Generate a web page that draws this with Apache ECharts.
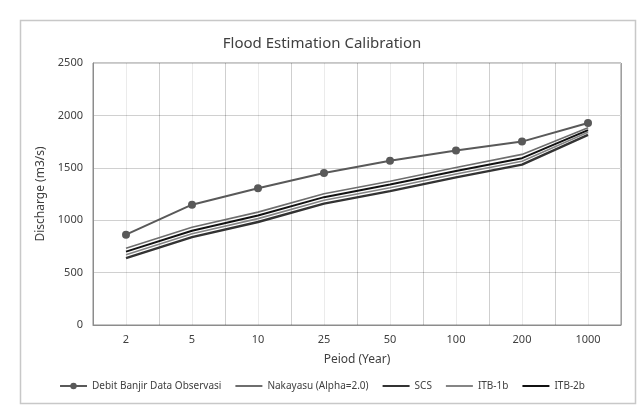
<!DOCTYPE html>
<html>
<head>
<meta charset="utf-8">
<script src="https://cdn.jsdelivr.net/npm/echarts@6/dist/echarts.min.js"></script>
<style>
  html, body { margin: 0; padding: 0; background: #fff; }
  #main { width: 644px; height: 417px; }
</style>
</head>
<body>
<div id="main"></div>
<script>
// return periods (year)
var periods = ["2", "5", "10", "25", "50", "100", "200", "1000"];

// discharge (m3/s)
var observasi = [862, 1148, 1305, 1450, 1568, 1664, 1750, 1928];
var nakayasu = [732, 932, 1077, 1252, 1372, 1502, 1628, 1882];
var itb2b = [700, 900, 1045, 1220, 1340, 1470, 1592, 1860];
var itb1b = [670, 870, 1015, 1190, 1310, 1440, 1562, 1840];
var scs = [638, 838, 983, 1158, 1278, 1408, 1530, 1815];

var yTicks = [0, 500, 1000, 1500, 2000, 2500];

var font = "Noto Sans";
var noMark = { color: "rgba(0,0,0,0)", borderWidth: 0, opacity: 0 };
var myChart = echarts.init(document.getElementById("main"));

myChart.setOption({
  animation: false,
  textStyle: { fontFamily: font },
  graphic: [
    {
      type: "rect",
      shape: { x: 20.5, y: 20.5, width: 615, height: 383 },
      style: { fill: "none", stroke: "#c8c8c8", lineWidth: 1.5 },
      z: -10
    }
  ],
  title: {
    text: "Flood Estimation Calibration",
    left: "center",
    top: 31,
    textStyle: { fontFamily: font, fontSize: 15, fontWeight: "normal", color: "#404040" }
  },
  grid: {
    left: 93,
    right: 23,
    top: 63,
    bottom: 92,
    show: true,
    borderColor: "#8c8c8c",
    borderWidth: 1
  },
  legend: {
    bottom: 21,
    left: "center",
    itemWidth: 27,
    itemHeight: 8,
    itemGap: 13,
    textStyle: { fontFamily: font, fontSize: 10, color: "#404040" },
    data: [
      { name: "Debit Banjir Data Observasi" },
      { name: "Nakayasu (Alpha=2.0)", itemStyle: noMark },
      { name: "SCS", itemStyle: noMark },
      { name: "ITB-1b", itemStyle: noMark },
      { name: "ITB-2b", itemStyle: noMark }
    ]
  },
  xAxis: [
    {
      // light grid lines at the middle of each category
      type: "value",
      position: "bottom",
      min: 0,
      max: 16,
      interval: 1,
      axisLabel: { show: false },
      axisLine: { show: false },
      axisTick: { show: false },
      splitLine: { show: true, lineStyle: { color: "rgba(0,0,0,0.08)" } }
    },
    {
      type: "category",
      position: "bottom",
      data: periods,
      boundaryGap: true,
      name: "Peiod (Year)",
      nameLocation: "middle",
      nameGap: 29,
      nameTextStyle: { fontFamily: font, fontSize: 12, color: "#404040" },
      axisLine: { show: true, lineStyle: { color: "#8c8c8c" } },
      axisTick: { show: false },
      axisLabel: { fontFamily: font, fontSize: 11, color: "#404040", margin: 9 },
      splitLine: { show: true, lineStyle: { color: "rgba(0,0,0,0.12)" } }
    }
  ],
  yAxis: {
    type: "value",
    min: yTicks[0],
    max: yTicks[yTicks.length - 1],
    interval: 500,
    name: "Discharge (m3/s)",
    nameLocation: "middle",
    nameGap: 44,
    nameTextStyle: { fontFamily: font, fontSize: 12, color: "#404040" },
    axisLine: { show: true, lineStyle: { color: "#8c8c8c" } },
    axisTick: { show: false },
    axisLabel: {
      fontFamily: font,
      fontSize: 11,
      color: "#404040",
      margin: 10,
      formatter: function (v) { return String(v); }
    },
    splitLine: { show: true, lineStyle: { color: "#d0d0d0" } }
  },
  series: [
    {
      name: "Debit Banjir Data Observasi",
      type: "line",
      xAxisIndex: 1,
      data: observasi,
      symbol: "circle",
      symbolSize: 8,
      itemStyle: { color: "#595959" },
      lineStyle: { color: "#595959", width: 2 },
      z: 10
    },
    {
      name: "Nakayasu (Alpha=2.0)",
      type: "line",
      xAxisIndex: 1,
      data: nakayasu,
      symbol: "none",
      itemStyle: { color: "#6e6e6e" },
      lineStyle: { color: "#6e6e6e", width: 1.6 }
    },
    {
      name: "SCS",
      type: "line",
      xAxisIndex: 1,
      data: scs,
      symbol: "none",
      itemStyle: { color: "#333333" },
      lineStyle: { color: "#333333", width: 2.4 }
    },
    {
      name: "ITB-1b",
      type: "line",
      xAxisIndex: 1,
      data: itb1b,
      symbol: "none",
      itemStyle: { color: "#858585" },
      lineStyle: { color: "#858585", width: 1.6 }
    },
    {
      name: "ITB-2b",
      type: "line",
      xAxisIndex: 1,
      data: itb2b,
      symbol: "none",
      itemStyle: { color: "#111111" },
      lineStyle: { color: "#111111", width: 2 }
    }
  ]
});
</script>
</body>
</html>
